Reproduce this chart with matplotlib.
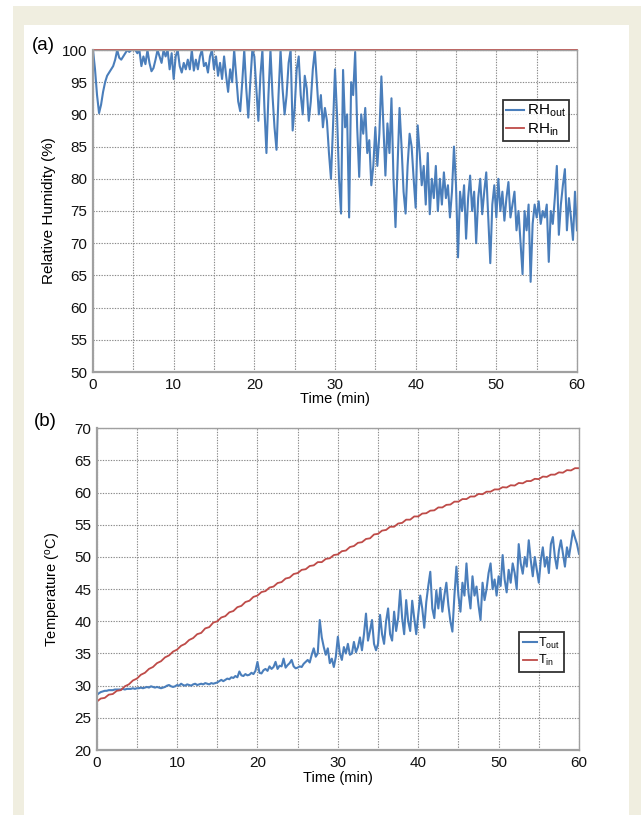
import numpy as np
import matplotlib
matplotlib.use('Agg')
import matplotlib.pyplot as plt
from matplotlib.patches import Rectangle

plt.rcParams['font.family'] = ['Liberation Sans', 'DejaVu Sans']
plt.rcParams['mathtext.fontset'] = 'custom'
plt.rcParams['mathtext.rm'] = 'Liberation Sans'
plt.rcParams['mathtext.it'] = 'Liberation Sans'

# ── Data ───────────────────────────────────────────────────────
# (a) relative humidity, 0.25 min sampling
rh_out = [
    100, 97, 93, 90.2, 91.5, 93.5, 95, 96, 96.5, 97, 97.5, 98.5, 100, 98.8, 98.5, 99, 99.5, 100, 99.7, 100,
    100, 100, 99.5, 100, 97.5, 99, 97.8, 100, 98, 96.7, 97.2, 98.5, 100, 99, 98, 100, 99, 100, 97, 99.5,
    95.5, 99, 100, 97.5, 96.5, 98, 97, 98.5, 97, 100, 96.8, 98.5, 97, 99, 100, 97.5, 98, 96.5, 99, 100,
    97, 99, 96, 98, 95.5, 99, 96, 93.5, 97, 95, 100, 96, 92, 90.5, 95, 100, 94, 89.5, 95, 100,
    99, 94, 89, 96, 100, 91, 84, 93, 100, 93, 88, 84.5, 93, 100, 94, 90, 93, 98, 100, 87.5,
    91, 97, 99, 93, 90, 96, 94, 89, 92, 97, 100, 95, 90, 93, 88, 91, 89, 84, 80, 88,
    97, 90, 80, 74.6, 96.9, 88, 90, 74, 95, 93, 99.7, 88, 80.3, 90, 87, 91, 84, 86, 79, 82,
    88, 82, 87, 95.9, 88, 80.5, 88.6, 84, 92.5, 80, 72.5, 82, 91, 85, 78, 74.6, 82, 87, 85, 80,
    75.5, 88.3, 84, 79, 82, 76, 84, 74.5, 80, 77, 82, 75, 80, 76, 81, 77, 79, 74, 78, 85,
    79, 67.8, 78, 75, 79, 70.7, 77, 80.5, 75, 78, 70, 77, 80, 74.5, 78, 81, 74, 66.9, 76, 79,
    74, 80, 75, 78, 73.5, 77, 79.5, 74, 76, 78, 72, 75, 70, 65.2, 75, 72, 76, 64, 73, 76,
    74, 76.5, 73, 75, 74, 76, 67.1, 75, 73, 77, 82, 71.3, 76, 79, 81.5, 72, 77, 74, 70.5, 78, 72,
]
rh_in = [100, 100]

# (b) temperature
t_out = [
    28.5, 28.8, 29.0, 29.1, 29.2, 29.2, 29.3, 29.3, 29.3, 29.4, 29.4, 29.4, 29.4, 29.5, 29.4, 29.5, 29.5, 29.5, 29.6, 29.5,
    29.6, 29.6, 29.7, 29.6, 29.7, 29.8, 29.7, 29.9, 29.8, 29.7, 29.8, 29.7, 29.6, 29.7, 29.8, 30.0, 30.1, 29.9, 29.8, 29.9,
    30.1, 30.0, 30.3, 30.1, 30.0, 30.2, 30.1, 30.0, 30.2, 30.3, 30.1, 30.2, 30.3, 30.2, 30.4, 30.3, 30.2, 30.4, 30.3, 30.4,
    30.5, 30.7, 30.9, 30.7, 30.9, 31.1, 31.0, 31.3, 31.2, 31.5, 31.3, 32.2, 31.6, 31.5, 31.8, 31.6, 31.7, 32.0, 31.8, 32.3,
    33.7, 32.0, 31.9, 32.4, 32.6, 32.3, 33.0, 32.6, 32.9, 33.7, 32.6, 33.1, 33.0, 34.2, 32.8, 33.2, 33.5, 34.0, 33.0, 32.7,
    32.8, 33.0, 32.9, 33.4, 33.7, 34.0, 33.6, 34.8, 35.8, 34.5, 35.0, 40.2, 37.5, 36.0, 34.8, 35.8, 33.5, 34.2, 32.9, 34.5,
    37.6, 35.0, 34.0, 36.0, 35.0, 36.5, 34.8, 35.0, 36.8, 35.2, 36.0, 37.5, 35.5, 38.0, 41.2, 37.0, 38.5, 40.2, 36.5, 35.5,
    36.5, 41.0, 38.0, 36.5, 40.0, 42.0, 38.0, 37.0, 41.5, 38.5, 40.5, 44.8, 40.5, 38.0, 43.3, 40.0, 38.5, 43.2, 40.5, 38.0,
    41.0, 44.0, 42.0, 39.0, 43.0, 45.5, 47.7, 42.0, 40.5, 44.8, 42.0, 45.2, 41.5, 44.0, 46.0, 42.5, 40.0, 38.4, 44.0, 48.5,
    44.0, 41.5, 46.0, 44.0, 49.0, 44.5, 42.0, 47.0, 44.0, 45.4, 42.5, 40.2, 46.0, 43.3, 45.0, 47.5, 49.0, 45.0, 46.5, 44.0,
    47.0, 45.5, 50.3, 46.5, 44.5, 48.0, 46.0, 49.0, 47.5, 45.0, 52.0, 49.0, 47.4, 50.0, 48.5, 52.6, 49.5, 47.0, 50.0, 48.0,
    46.0, 49.5, 51.5, 48.5, 50.0, 47.5, 52.0, 53.1, 50.0, 48.2, 51.0, 52.6, 50.5, 48.5, 51.5, 50.0, 52.0, 54.1, 53.0, 52.0, 50.5,
]
t_in = [
    27.5, 28.0, 28.1, 28.6, 28.7, 29.2, 29.3, 29.9, 30.2, 30.8, 31.1, 31.7, 32.0, 32.6, 32.9, 33.5, 33.8, 34.4, 34.7, 35.3,
    35.6, 36.2, 36.5, 37.1, 37.4, 38.0, 38.2, 38.9, 39.1, 39.8, 40.0, 40.6, 40.8, 41.4, 41.6, 42.2, 42.4, 43.0, 43.2, 43.8,
    44.0, 44.55, 44.7, 45.25, 45.4, 45.95, 46.1, 46.65, 46.8, 47.35, 47.5, 48.0, 48.1, 48.6, 48.7, 49.2, 49.2, 49.7, 49.8, 50.3,
    50.4, 50.9, 51.0, 51.55, 51.7, 52.2, 52.3, 52.8, 52.9, 53.5, 53.6, 54.1, 54.2, 54.7, 54.7, 55.2, 55.3, 55.8, 55.8, 56.3,
    56.3, 56.75, 56.8, 57.2, 57.25, 57.7, 57.7, 58.1, 58.15, 58.6, 58.6, 59.0, 59.0, 59.4, 59.4, 59.8, 59.75, 60.15, 60.15, 60.5,
    60.5, 60.85, 60.8, 61.15, 61.1, 61.5, 61.45, 61.8, 61.8, 62.15, 62.1, 62.5, 62.45, 62.8, 62.8, 63.15, 63.1, 63.5, 63.45, 63.8,
    63.8,
]

time_rh_out = np.linspace(0, 60, len(rh_out))
time_rh_in = np.linspace(0, 60, len(rh_in))
time_t_out = np.linspace(0, 60, len(t_out))
time_t_in = np.linspace(0, 60, len(t_in))

BLUE = '#4a7ebb'
RED = '#be4b48'
BEIGE = '#f0eee0'
GRID = '#8a8a8a'
SPINE = '#a0a0a0'

W, H = 641, 815
fig = plt.figure(figsize=(W / 100, H / 100), dpi=100, facecolor='white')

# beige frame + white panel
fig.patches.append(Rectangle((13 / W, 0), 1 - 13 / W, 1 - 6 / H,
                             transform=fig.transFigure, facecolor=BEIGE,
                             edgecolor='none', zorder=-10))
fig.patches.append(Rectangle((24 / W, 0), (629 - 24) / W, 1 - 25 / H,
                             transform=fig.transFigure, facecolor='white',
                             edgecolor='none', zorder=-9))


def px_axes(left, top, right, bottom):
    return fig.add_axes([left / W, 1 - bottom / H, (right - left) / W, (bottom - top) / H])


def style_axes(ax, ylo, yhi):
    ax.set_xlim(0, 60)
    ax.set_ylim(ylo, yhi)
    ax.set_xticks(np.arange(0, 61, 5))
    ax.set_xticklabels(['0', '', '10', '', '20', '', '30', '', '40', '', '50', '', '60'])
    ax.set_yticks(np.arange(ylo, yhi + 1, 5))
    ax.tick_params(length=0, labelsize=11, pad=4, colors='#111111')
    ax.tick_params(axis='x', pad=4)
    ax.grid(True, color=GRID, linestyle=(0, (1.2, 1.2)), linewidth=0.8)
    ax.set_axisbelow(True)
    for s in ax.spines.values():
        s.set_color(SPINE)
        s.set_linewidth(1.0)
    ax.spines['left'].set_linewidth(1.6)
    ax.spines['bottom'].set_linewidth(1.6)


# ── (a) relative humidity ─────────────────────────────────────
ax1 = px_axes(93, 50, 577, 372)
style_axes(ax1, 50, 100)
ax1.plot(time_rh_out, rh_out, color=BLUE, linewidth=1.5, label=r'RH$_{\mathrm{out}}$')
ax1.plot(time_rh_in, rh_in, color=RED, linewidth=1.3, label=r'RH$_{\mathrm{in}}$', clip_on=False)
ax1.set_ylabel('Relative Humidity (%)', fontsize=11, labelpad=4)
ax1.set_xlabel('Time (min)', fontsize=10.5, labelpad=0)
leg1 = ax1.legend(loc='upper left', bbox_to_anchor=(503 / W, 1 - 100 / H),
                  bbox_transform=fig.transFigure, fontsize=11, frameon=True,
                  fancybox=False, handlelength=1.2, handletextpad=0.2,
                  borderpad=0.2, labelspacing=0.15, borderaxespad=0)
leg1.get_frame().set_edgecolor('black')
leg1.get_frame().set_linewidth(1.3)
fig.text(32 / W, 1 - 45 / H, '(a)', fontsize=13.5, va='center', ha='left')

# ── (b) temperature ───────────────────────────────────────────
ax2 = px_axes(96.7, 428.3, 579, 750)
style_axes(ax2, 20, 70)
ax2.plot(time_t_out, t_out, color=BLUE, linewidth=1.5, label=r'T$_{\mathrm{out}}$')
ax2.plot(time_t_in, t_in, color=RED, linewidth=1.3, label=r'T$_{\mathrm{in}}$')
ax2.set_ylabel(r'Temperature ($^{\mathrm{o}}$C)', fontsize=10.5, labelpad=8)
ax2.set_xlabel('Time (min)', fontsize=10.5, labelpad=1)
leg2 = ax2.legend(loc='upper left', bbox_to_anchor=(519 / W, 1 - 632 / H),
                  bbox_transform=fig.transFigure, fontsize=9, frameon=True,
                  fancybox=False, handlelength=1.1, handletextpad=0.15,
                  borderpad=0.3, labelspacing=0.2, borderaxespad=0)
leg2.get_frame().set_edgecolor('black')
leg2.get_frame().set_linewidth(1.3)
fig.text(34 / W, 1 - 421 / H, '(b)', fontsize=13.5, va='center', ha='left')

fig.savefig('out.png', dpi=100, facecolor=fig.get_facecolor())
